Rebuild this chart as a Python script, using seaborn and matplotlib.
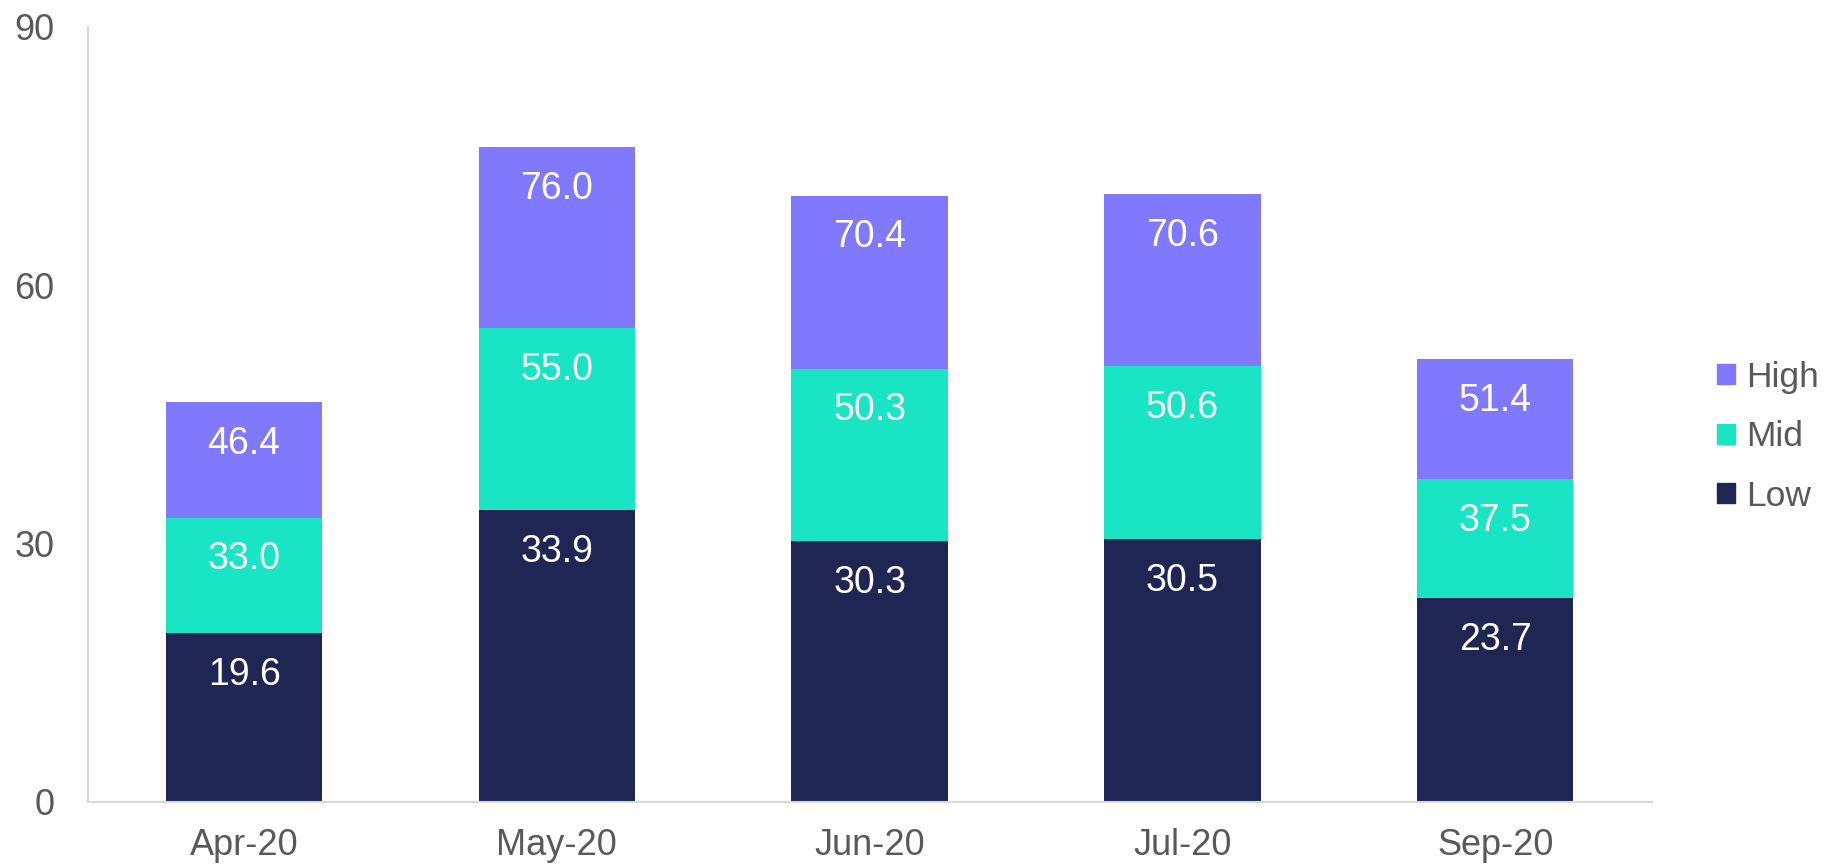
import pandas as pd
import seaborn as sns
import matplotlib.pyplot as plt
from matplotlib.patches import Patch

months = ["Apr-20", "May-20", "Jun-20", "Jul-20", "Sep-20"]
low = [19.6, 33.9, 30.3, 30.5, 23.7]
mid = [33.0, 55.0, 50.3, 50.6, 37.5]
high = [46.4, 76.0, 70.4, 70.6, 51.4]

colors = {"High": "#8079FE", "Mid": "#19E5C4", "Low": "#1F2654"}

sns.set_style("white")
plt.rcParams["font.family"] = ["Liberation Sans", "DejaVu Sans"]

df = pd.DataFrame({"month": months, "Low": low, "Mid": mid, "High": high})

fig, ax = plt.subplots(figsize=(18.27, 8.67), dpi=100)
fig.subplots_adjust(left=0.048, right=0.904, bottom=0.075, top=0.969)

# values are cumulative, so draw the tallest first and overlay
for s in ["High", "Mid", "Low"]:
    sns.barplot(data=df, x="month", y=s, color=colors[s], width=0.5,
                saturation=1, ax=ax, edgecolor="none")

# labels sit a fixed distance below the top of each segment
for i in range(len(months)):
    for v in [low[i], mid[i], high[i]]:
        ax.annotate(f"{v:.1f}", (i, v), xytext=(0, -30), textcoords="offset points",
                    ha="center", va="center", color="white", fontsize=27)

ax.set_ylim(0, 90)
ax.set_xlim(-0.5, 4.5)
ax.set_yticks([0, 30, 60, 90])
ax.set_xlabel("")
ax.set_ylabel("")
ax.tick_params(axis="both", labelsize=26, colors="#595959", length=0)
ax.tick_params(axis="x", pad=19)
ax.tick_params(axis="y", pad=24)
sns.despine(ax=ax)
for sp in ["left", "bottom"]:
    ax.spines[sp].set_color("#D9D9D9")
    ax.spines[sp].set_linewidth(1.5)

handles = [Patch(color=colors[s], label=s) for s in ["High", "Mid", "Low"]]
leg = ax.legend(handles=handles, loc="center left", bbox_to_anchor=(1.042, 0.471),
                frameon=False, fontsize=25.5, handlelength=0.5, handleheight=0.5,
                handletextpad=0.3, labelspacing=0.75, borderaxespad=0, borderpad=0)
for t in leg.get_texts():
    t.set_color("#595959")

plt.savefig("out.png", dpi=100)
